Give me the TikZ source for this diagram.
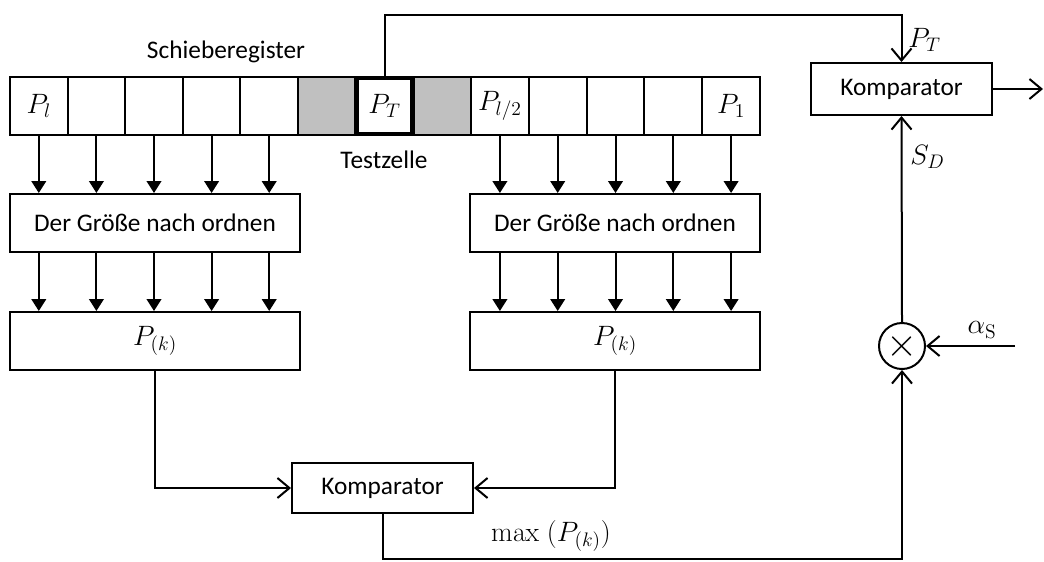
\RequirePackage{fix-cm}
\documentclass[tikz,border=0pt]{standalone}
\usepackage[no-math]{fontspec}
\setmainfont{Carlito}
\usepackage{amsmath}
\usetikzlibrary{arrows.meta}

\definecolor{cellgray}{RGB}{192,192,192}

\tikzset{
  cell/.style={draw, minimum width=43.3pt, minimum height=43.5pt, inner sep=0pt, outer sep=0pt},
  block/.style={draw, minimum width=217.5pt, minimum height=43.5pt, inner sep=0pt},
  kompbox/.style={draw, minimum width=135.75pt, minimum height=38pt, inner sep=0pt},
  mathlbl/.style={font=\fontsize{21}{25}\selectfont},
  fill arrow/.style={-{Triangle[length=9pt,width=11pt]}},
  open arrow/.style={-{Straight Barb[length=9pt,width=15pt]}}
}

\begin{document}
\begin{tikzpicture}[x=0.75pt,y=-0.75pt,line width=1.5pt,font=\fontsize{19}{23}\selectfont]
\useasboundingbox (0,0) rectangle (1044,561);

% Shift register: left half, test window, right half
\foreach \i in {1,...,5} {
\node [cell] (l\i) at ({10+57.6*(\i-0.5)},106) {};
\node [cell] (r\i) at ({471+57.8*(\i-0.5)},106) {};
}
\node [cell, fill=cellgray] (gl) at (326.5,106) {};
\node [cell, fill=cellgray] (gr) at (442.5,106) {};
\node [cell, mathlbl, line width=3pt, minimum width=41pt, minimum height=41.5pt] (pt) at (384.5,106) {$P_T$};

% Cell labels
\node [mathlbl] at (l1) {$P_l$};
\node [mathlbl] at (r1) {$P_{l/2}$};
\node [mathlbl] at (r5) {$P_1$};

\node (sr) at (226,52) {Schieberegister};
\node (tz) at (384,160) {Testzelle};

% Sorting and order statistic blocks
\node [block] (sortL) at (155,223) {Der Größe nach ordnen};
\node [block] (sortR) at (615,223) {Der Größe nach ordnen};
\node [block, mathlbl] (pkL) at (155,341) {$P_{(k)}$};
\node [block, mathlbl] (pkR) at (615,341) {$P_{(k)}$};

% Comparators and multiplier
\node [kompbox] (kompB) at (382.5,488) {Komparator};
\node [kompbox, minimum height=39pt] (kompT) at (901.5,89) {Komparator};
\node [draw, circle, minimum size=34.5pt, inner sep=0pt, font=\fontsize{30}{30}\selectfont] (mult) at (902,346) {$\times$};

% Cells to sorting, sorting to P_(k)
\foreach \i in {1,...,5} {
\draw [fill arrow] (l\i.south) -- (l\i.south |- sortL.north);
\draw [fill arrow] (r\i.south) -- (r\i.south |- sortR.north);
\draw [fill arrow] (sortL.south -| l\i) -- (pkL.north -| l\i);
\draw [fill arrow] (sortR.south -| r\i) -- (pkR.north -| r\i);
}

% Both halves into the lower comparator
\draw [open arrow] (pkL.south) |- (kompB.west);
\draw [open arrow] (pkR.south) |- (kompB.east);

% Maximum to the multiplier
\coordinate (corner) at (902,559);
\draw [open arrow] (kompB.south) |- (corner) -- (mult.south);
\node [mathlbl] (maxlbl) at (551,536) {$\max\;(P_{(k)})$};

% Scaling factor
\coordinate (alphain) at (1015,346);
\draw [open arrow] (alphain) -- (mult.east);
\node [mathlbl] (alpha) at (982,330) {$\alpha_{\mathrm{S}}$};

% Threshold into the upper comparator
\draw [open arrow] (mult.north) -- (kompT.south);
\node [mathlbl, anchor=west] (sd) at (905,157) {$S_D$};

% Test cell into the upper comparator
\coordinate (top) at (384.5,15);
\draw [open arrow] (pt.north) -- (top) -| (kompT.north);
\node [mathlbl, anchor=west] (ptlbl) at (903,40) {$P_T$};

% Output
\coordinate (out) at (1043,89);
\draw [open arrow] (kompT.east) -- (out);
\end{tikzpicture}
\end{document}
